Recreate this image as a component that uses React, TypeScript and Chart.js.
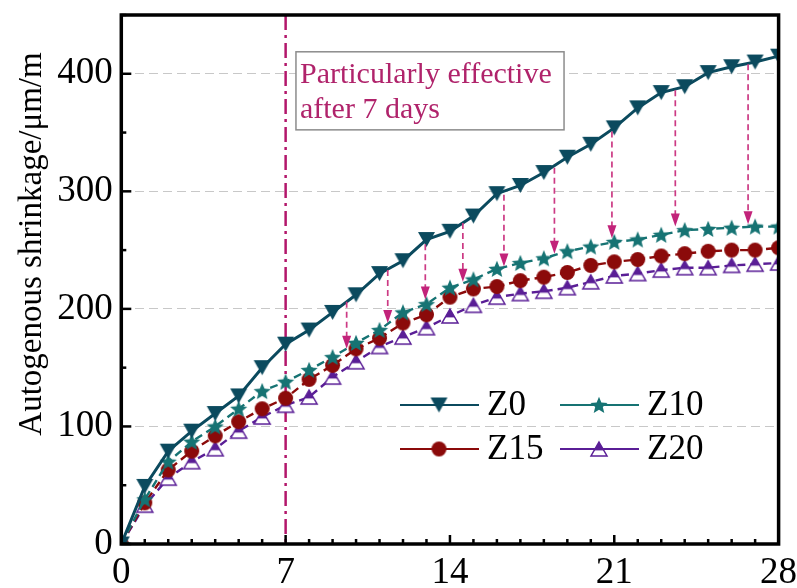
import React, { useEffect, useRef } from 'react';
import { Chart, registerables } from 'chart.js';

Chart.register(...registerables);

// ---------- data ----------
const days = [0, 1, 2, 3, 4, 5, 6, 7, 8, 9, 10, 11, 12, 13, 14, 15, 16, 17, 18, 19, 20, 21, 22, 23, 24, 25, 26, 27, 28];
const z0 = [0, 49, 79, 96, 111, 126, 150, 170, 182, 197, 212, 230, 241, 259, 266, 279, 298, 305, 316, 329, 340, 354, 371, 384, 389, 401, 406, 410, 415];
const z10 = [0, 38, 70, 87, 100, 115, 130, 138, 148, 159, 171, 182, 197, 204, 218, 225, 234, 239, 243, 249, 253, 257, 259, 263, 267, 268, 269, 270, 270];
const z15 = [0, 35, 63, 79, 92, 104, 115, 124, 140, 152, 166, 175, 188, 195, 210, 217, 219, 224, 227, 231, 237, 240, 242, 245, 247, 249, 250, 250, 252];
const z20 = [0, 33, 56, 70, 81, 96, 108, 118, 125, 142, 155, 168, 176, 184, 194, 203, 210, 213, 215, 218, 223, 228, 230, 233, 235, 235, 237, 238, 239];
const seriesNames = ['Z0', 'Z10', 'Z15', 'Z20'];
const xTickStep = 7;
const yTickStep = 100;
const markerDay = 7;
const arrowDays = [9.6, 11.35, 12.95, 14.55, 16.3, 18.45, 20.9, 23.6, 26.7];
const arrowFrom = [206, 233, 255, 273, 297, 320, 351, 386, 408];
const arrowTo = [166, 188, 208, 223, 236, 247, 260, 270, 272];
const noteLines = ['Particularly effective', 'after 7 days'];
const yTitle = 'Autogenous shrinkage/\u03bcm/m';

// ---------- styles ----------
const FONT = "'Liberation Serif', 'Times New Roman', serif";
const C0 = '#0b4a5e';
const C10 = '#167373';
const C15 = '#8b0a0a';
const C20 = '#5a1e96';
const ARROW = '#cc3a84';
const ARROW_HEAD = '#c2237a';
const VLINE = '#b3176b';
const NOTE = '#b0236b';

function mk(w: number, h: number) {
  const c = document.createElement('canvas');
  c.width = w;
  c.height = h;
  return c;
}
function triDown(color: string) {
  const w = 17, h = 15;
  const c = mk(w + 2, h + 2);
  const g = c.getContext('2d')!;
  g.fillStyle = color;
  g.beginPath();
  g.moveTo(1, 1);
  g.lineTo(w + 1, 1);
  g.lineTo(w / 2 + 1, h + 1);
  g.closePath();
  g.fill();
  return c;
}
function star(color: string) {
  const R = 9, r = 4;
  const s = Math.ceil(2 * R + 2);
  const c = mk(s, s);
  const g = c.getContext('2d')!;
  const cx = s / 2, cy = s / 2 + 0.8;
  g.fillStyle = color;
  g.beginPath();
  for (let i = 0; i < 10; i++) {
    const a = -Math.PI / 2 + (i * Math.PI) / 5;
    const rad = i % 2 ? r : R;
    const px = cx + rad * Math.cos(a), py = cy + rad * Math.sin(a);
    if (i === 0) g.moveTo(px, py);
    else g.lineTo(px, py);
  }
  g.closePath();
  g.fill();
  return c;
}
function dot(color: string) {
  const r = 7.5;
  const c = mk(Math.ceil(2 * r + 2), Math.ceil(2 * r + 2));
  const g = c.getContext('2d')!;
  g.fillStyle = color;
  g.beginPath();
  g.arc(c.width / 2, c.height / 2, r, 0, Math.PI * 2);
  g.fill();
  return c;
}
function halfTri(color: string) {
  const w = 16, h = 14;
  const c = mk(w + 4, h + 4);
  const g = c.getContext('2d')!;
  const x0 = 2, y0 = 2;
  const path = () => {
    g.beginPath();
    g.moveTo(x0 + w / 2, y0);
    g.lineTo(x0 + w, y0 + h);
    g.lineTo(x0, y0 + h);
    g.closePath();
  };
  path();
  g.fillStyle = '#ffffff';
  g.fill();
  g.save();
  path();
  g.clip();
  g.fillStyle = color;
  g.fillRect(0, 0, w + 4, y0 + h * 0.6);
  g.restore();
  path();
  g.strokeStyle = color;
  g.lineWidth = 1.5;
  g.stroke();
  return c;
}

export default function App() {
  const ref = useRef<HTMLCanvasElement>(null);

  useEffect(() => {
    const markers = [triDown(C0), star(C10), dot(C15), halfTri(C20)];
    const colors = [C0, C10, C15, C20];
    const values = [z0, z10, z15, z20];

    const datasets = values.map((vals, k) => ({
      label: seriesNames[k],
      data: days.map((d, i) => ({ x: d, y: vals[i] })),
      borderColor: colors[k],
      backgroundColor: colors[k],
      borderWidth: k === 0 ? 3 : 2.4,
      borderDash: k === 0 ? [] : [8, 5],
      pointStyle: markers[k] as any,
      pointRadius: 8,
      tension: 0,
      fill: false,
    }));

    const decorations = {
      id: 'decorations',
      beforeDatasetsDraw(chart: any) {
        const { ctx, chartArea: a, scales } = chart;
        const x = scales.x.getPixelForValue(markerDay);
        ctx.save();
        ctx.strokeStyle = VLINE;
        ctx.lineWidth = 2.5;
        ctx.setLineDash([15, 5, 3, 5]);
        ctx.beginPath();
        ctx.moveTo(x, a.top);
        ctx.lineTo(x, a.bottom);
        ctx.stroke();
        ctx.restore();
      },
      afterDatasetsDraw(chart: any) {
        const { ctx, chartArea: a, scales } = chart;
        const xs = scales.x, ys = scales.y;
        ctx.save();
        // arrows
        for (let i = 0; i < arrowDays.length; i++) {
          const x = xs.getPixelForValue(arrowDays[i]);
          const y1 = ys.getPixelForValue(arrowFrom[i]);
          const y2 = ys.getPixelForValue(arrowTo[i]);
          const head = 13;
          ctx.strokeStyle = ARROW;
          ctx.lineWidth = 1.7;
          ctx.setLineDash([6, 4]);
          ctx.beginPath();
          ctx.moveTo(x, y1);
          ctx.lineTo(x, y2 - head + 1);
          ctx.stroke();
          ctx.setLineDash([]);
          ctx.fillStyle = ARROW_HEAD;
          ctx.beginPath();
          ctx.moveTo(x - 4.5, y2 - head);
          ctx.lineTo(x + 4.5, y2 - head);
          ctx.lineTo(x, y2);
          ctx.closePath();
          ctx.fill();
        }
        // note box
        const bx1 = xs.getPixelForValue(7.44), bx2 = xs.getPixelForValue(18.86);
        const by1 = ys.getPixelForValue(418.7), by2 = ys.getPixelForValue(352.3);
        ctx.fillStyle = '#ffffff';
        ctx.fillRect(bx1, by1, bx2 - bx1, by2 - by1);
        ctx.strokeStyle = '#8c8c8c';
        ctx.lineWidth = 1.5;
        ctx.strokeRect(bx1, by1, bx2 - bx1, by2 - by1);
        ctx.fillStyle = NOTE;
        ctx.font = `30px ${FONT}`;
        ctx.textAlign = 'left';
        ctx.textBaseline = 'alphabetic';
        ctx.fillText(noteLines[0], bx1 + 4, by1 + 31);
        ctx.fillText(noteLines[1], bx1 + 4, by1 + 66);

        // frame
        ctx.strokeStyle = '#000';
        ctx.lineWidth = 3.5;
        ctx.strokeRect(a.left, a.top, a.right - a.left, a.bottom - a.top);
        // inward ticks
        ctx.lineWidth = 2.5;
        for (let v = 0; v <= ys.max; v += yTickStep / 2) {
          const y = ys.getPixelForValue(v);
          const len = v % yTickStep === 0 ? 10 : 5;
          ctx.beginPath();
          ctx.moveTo(a.left, y);
          ctx.lineTo(a.left + len, y);
          ctx.stroke();
        }
        for (let d = xs.min; d <= xs.max; d += 1) {
          const x = xs.getPixelForValue(d);
          const len = d % xTickStep === 0 ? 9 : 5;
          ctx.beginPath();
          ctx.moveTo(x, a.bottom);
          ctx.lineTo(x, a.bottom - len);
          ctx.stroke();
        }
        ctx.restore();
      },
      afterDraw(chart: any) {
        const { ctx } = chart;
        ctx.save();
        // y title
        ctx.translate(32, 244);
        ctx.rotate(-Math.PI / 2);
        ctx.fillStyle = '#000';
        ctx.font = `33px ${FONT}`;
        ctx.textAlign = 'center';
        ctx.textBaseline = 'middle';
        ctx.fillText(yTitle, 0, 0);
        ctx.restore();

        // legend
        const pos = [
          [400, 479, 439, 487, 405],
          [560, 639, 599, 647, 405],
          [400, 479, 439, 487, 449],
          [560, 639, 599, 647, 449],
        ];
        ctx.save();
        chart.data.datasets.forEach((ds: any, k: number) => {
          const [l1, l2, mx, tx, y] = pos[k];
          ctx.strokeStyle = ds.borderColor;
          ctx.lineWidth = 2.2;
          ctx.setLineDash([]);
          ctx.beginPath();
          ctx.moveTo(l1, y);
          ctx.lineTo(l2, y);
          ctx.stroke();
          const m = markers[k];
          ctx.drawImage(m, mx - m.width / 2, y - m.height / 2);
          ctx.fillStyle = '#000';
          ctx.font = `35px ${FONT}`;
          ctx.textAlign = 'left';
          ctx.textBaseline = 'middle';
          ctx.fillText(ds.label, tx, y + 1);
        });
        ctx.restore();
      },
    };

    const chart = new Chart(ref.current!, {
      type: 'line',
      data: { datasets },
      options: {
        animation: false,
        responsive: false,
        devicePixelRatio: 1,
        layout: { padding: { top: 15, right: 18.4, left: 0, bottom: 0 } },
        plugins: { legend: { display: false }, tooltip: { enabled: false } },
        scales: {
          x: {
            type: 'linear',
            min: 0,
            max: 28,
            ticks: { stepSize: xTickStep, color: '#000', font: { family: FONT, size: 37, lineHeight: 1 }, padding: 11 },
            grid: { display: false, drawTicks: false },
            border: { display: false },
            afterFit: (s: any) => {
              s.height = 44;
              s.paddingLeft = 0;
              s.paddingRight = 0;
            },
          },
          y: {
            type: 'linear',
            min: 0,
            max: 450,
            ticks: { stepSize: yTickStep, includeBounds: false, color: '#000', font: { family: FONT, size: 37, lineHeight: 1 }, padding: 8.5 },
            grid: {
              drawTicks: false,
              lineWidth: 1,
              color: (c: any) => (c.tick && c.tick.value === 0 ? 'rgba(0,0,0,0)' : '#c8c8c8'),
            },
            border: { display: false, dash: [9, 5] },
            afterFit: (s: any) => {
              s.width = 121.3;
              s.paddingTop = 0;
              s.paddingBottom = 0;
            },
          },
        },
      } as any,
      plugins: [decorations],
    });
    return () => chart.destroy();
  }, []);

  return (
    <div style={{ position: 'fixed', left: 0, top: 0, width: 797, height: 588, background: '#fff' }}>
      <canvas ref={ref} width={797} height={588} style={{ display: 'block', width: 797, height: 588 }} />
    </div>
  );
}
